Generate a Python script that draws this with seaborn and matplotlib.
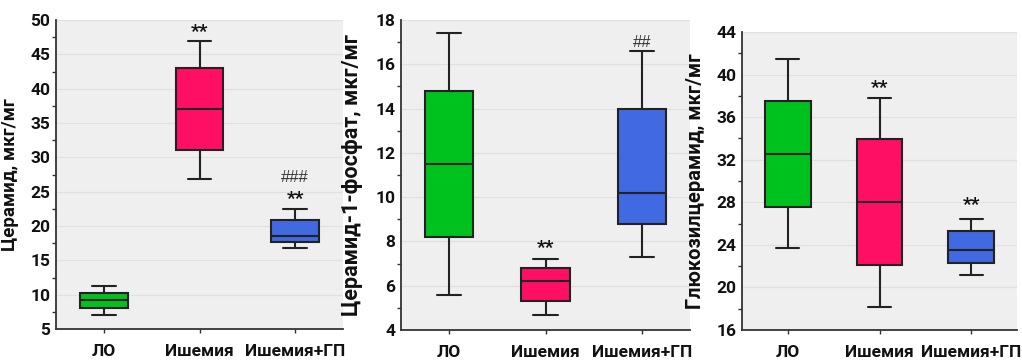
import matplotlib
matplotlib.use('Agg')
import matplotlib.pyplot as plt
import seaborn as sns
import pandas as pd
from matplotlib.ticker import MultipleLocator

groups = ['ЛО', 'Ишемия', 'Ишемия+ГП']
colors = ['#00C21E', '#FF0F64', '#4169E1']

# five-number summaries: lower whisker, Q1, median, Q3, upper whisker
cer_lo = [7.1, 8.0, 9.2, 10.3, 11.3]
cer_isch = [26.9, 31.0, 37.0, 43.0, 46.9]
cer_gp = [16.8, 17.7, 18.6, 20.9, 22.5]

c1p_lo = [5.6, 8.2, 11.5, 14.8, 17.4]
c1p_isch = [4.7, 5.3, 6.2, 6.8, 7.2]
c1p_gp = [7.3, 8.8, 10.2, 14.0, 16.6]

gcer_lo = [23.7, 27.6, 32.5, 37.5, 41.5]
gcer_isch = [18.2, 22.1, 28.0, 33.9, 37.8]
gcer_gp = [21.2, 22.3, 23.5, 25.3, 26.4]

ylabels = ['Церамид, мкг/мг', 'Церамид-1-фосфат, мкг/мг', 'Глюкозилцерамид, мкг/мг']
ylims = [(5, 50), (4, 18), (16, 44)]
ysteps = [5, 2, 4]

# significance marks: (group index, y value, text)
marks1 = [(1, 48.2, '**'), (2, 27.1, '###'), (2, 24.0, '**')]
marks2 = [(2, 17.0, '##'), (1, 7.7, '**')]
marks3 = [(1, 38.7, '**'), (2, 27.7, '**')]

sns.set_theme(style='ticks')
plt.rcParams['font.family'] = ['Roboto', 'DejaVu Sans']

W, H = 1022, 361
fig = plt.figure(figsize=(W / 100, H / 100), dpi=100)

boxes_px = [(56, 343, 20, 329), (401, 690, 20, 330), (742, 1017, 32, 330)]
data_sets = [(cer_lo, cer_isch, cer_gp), (c1p_lo, c1p_isch, c1p_gp), (gcer_lo, gcer_isch, gcer_gp)]
marks_all = [marks1, marks2, marks3]
ylab_x = [19, 363, 705]
ylab_size = [13.5, 15.5, 14.5]

for i in range(3):
    l, r, t, b = boxes_px[i]
    ax = fig.add_axes([l / W, (H - b) / H, (r - l) / W, (b - t) / H])
    ax.set_facecolor('#efefef')
    rows = []
    for g, vals in zip(groups, data_sets[i]):
        for v in vals:
            rows.append({'group': g, 'value': v})
    df = pd.DataFrame(rows)
    sns.boxplot(data=df, x='group', y='value', hue='group', order=groups,
                hue_order=groups, palette=colors, saturation=1, width=0.5,
                whis=(0, 100), linecolor='#222222', linewidth=1.5,
                legend=False, ax=ax, zorder=3)
    ax.set_xlim(-0.5, 2.5)
    ax.set_ylim(*ylims[i])
    ax.yaxis.set_major_locator(MultipleLocator(ysteps[i]))
    ax.yaxis.set_minor_locator(MultipleLocator(ysteps[i] / 2))
    ax.grid(axis='y', which='major', color='#e0e0e0', linewidth=0.9, zorder=0)
    ax.set_axisbelow(True)
    for s in ['top', 'right']:
        ax.spines[s].set_visible(False)
    for s in ['left', 'bottom']:
        ax.spines[s].set_color('#333333')
        ax.spines[s].set_linewidth(1.3)
    ax.tick_params(axis='y', which='major', length=0, pad=4, labelsize=12.5)
    ax.tick_params(axis='y', which='minor', length=3, width=1, color='#333333')
    ax.tick_params(axis='x', which='major', length=3, width=1, color='#333333',
                   pad=8, labelsize=12.5)
    for lab in ax.get_yticklabels() + ax.get_xticklabels():
        lab.set_fontweight('bold')
        lab.set_color('#111111')
    ax.set_xlabel('')
    ax.set_ylabel(ylabels[i], fontsize=ylab_size[i], fontweight='bold', color='#111111')
    ax.yaxis.set_label_coords((ylab_x[i] - l) / (r - l), 0.5)
    for gi, yv, txt in marks_all[i]:
        if '#' in txt:
            ax.text(gi, yv, txt, ha='center', va='center', fontsize=12,
                    color='#333333', family=['Liberation Sans', 'DejaVu Sans'])
        else:
            ax.text(gi, yv, txt, ha='center', va='center', fontsize=14,
                    color='#111111', fontweight='bold')

fig.savefig('out.png', dpi=100)
